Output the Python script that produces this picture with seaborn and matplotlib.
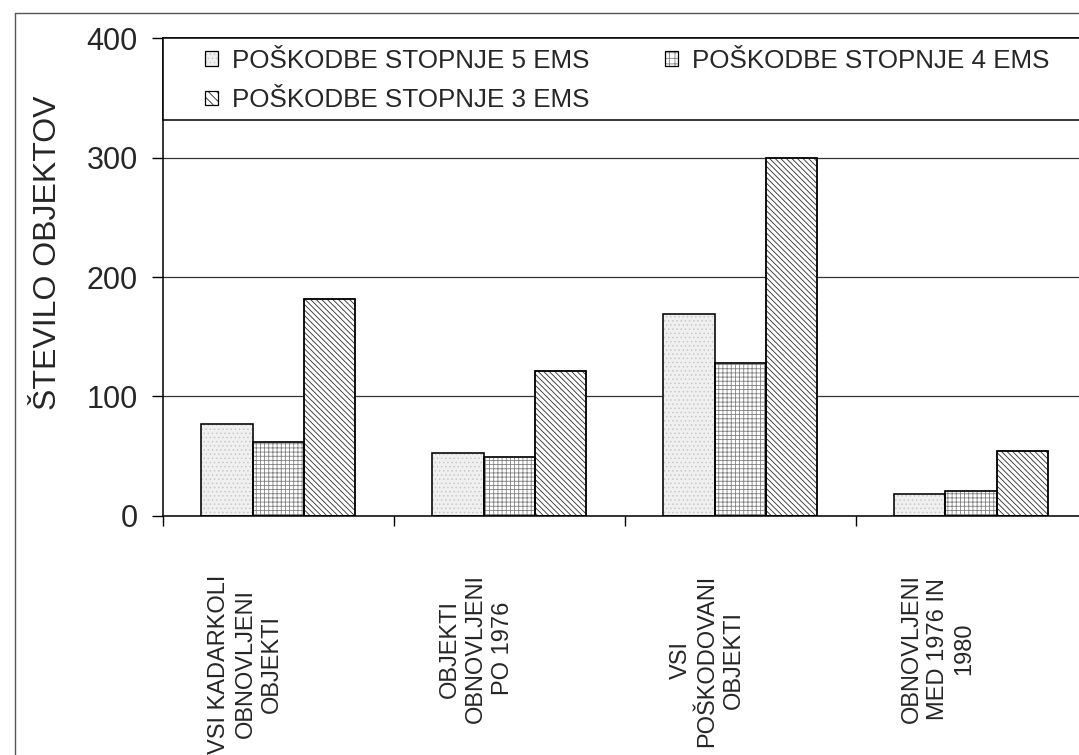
import pandas as pd
import seaborn as sns
import matplotlib.pyplot as plt
from matplotlib.patches import Patch, Rectangle
from matplotlib.lines import Line2D
from matplotlib.transforms import ScaledTranslation

categories = [
    "VSI KADARKOLI\nOBNOVLJENI\nOBJEKTI",
    "OBJEKTI\nOBNOVLJENI\nPO 1976",
    "VSI\nPOŠKODOVANI\nOBJEKTI",
    "OBNOVLJENI\nMED 1976 IN\n1980",
]
series_names = [
    "POŠKODBE STOPNJE 5 EMS",
    "POŠKODBE STOPNJE 4 EMS",
    "POŠKODBE STOPNJE 3 EMS",
]
stopnja_5 = [77, 53, 169, 18]
stopnja_4 = [62, 49, 128, 21]
stopnja_3 = [182, 121, 300, 54]

df = pd.DataFrame({
    "kategorija": categories * 3,
    "poskodbe": [series_names[0]] * 4 + [series_names[1]] * 4 + [series_names[2]] * 4,
    "stevilo": stopnja_5 + stopnja_4 + stopnja_3,
})

sns.set_style("white")
plt.rcParams["font.family"] = ["Liberation Sans", "DejaVu Sans"]
plt.rcParams["hatch.linewidth"] = 0.6

fig = plt.figure(figsize=(10.79, 7.55), dpi=100)
ax = fig.add_axes([0.151, 0.3166, 0.856, 0.633])

fills = ["#f0f0f0", "white", "white"]
hatches = ["....", "++++", "\\\\\\\\\\\\"]
hatch_cols = ["#c8c8c8", "#808080", "#2a2a2a"]

sns.barplot(data=df, x="kategorija", y="stevilo", hue="poskodbe",
            hue_order=series_names, palette=fills, saturation=1,
            width=0.667, edgecolor="black", linewidth=1.1,
            legend=False, ax=ax)

# hatch takes the edge colour, so hatch in grey and outline each bar in black
for container, h, hc in zip(ax.containers, hatches, hatch_cols):
    for bar in container:
        bar.set_hatch(h)
        bar.set_edgecolor(hc)
        ax.add_patch(Rectangle((bar.get_x(), bar.get_y()), bar.get_width(),
                               bar.get_height(), fill=False, edgecolor="black",
                               linewidth=1.1, zorder=bar.get_zorder() + 0.1))

ax.set_ylim(0, 400)
ax.set_xlim(-0.5, 3.5)
ax.set_yticks([0, 100, 200, 300, 400])
ax.yaxis.grid(True, color="#333333", linewidth=0.9)
ax.set_axisbelow(True)

for side in ["left", "bottom", "top"]:
    ax.spines[side].set_color("black")
    ax.spines[side].set_linewidth(1.1)
ax.spines["right"].set_visible(False)

ax.tick_params(axis="y", direction="out", length=8, width=1, color="black",
               labelsize=22, pad=10, left=True)
ax.set_ylabel("ŠTEVILO OBJEKTOV", fontsize=23)
ax.yaxis.set_label_coords(-0.108, 0.55)
ax.set_xlabel("")

ax.set_xticks([-0.5, 0.5, 1.5, 2.5], minor=True)
ax.tick_params(axis="x", which="minor", direction="out", length=7, width=1,
               color="black", bottom=True)
ax.tick_params(axis="x", which="major", length=0, pad=42, labelsize=17)
offset = ScaledTranslation(-33 / 100, 0, fig.dpi_scale_trans)
for lbl in ax.get_xticklabels():
    lbl.set_rotation(90)
    lbl.set_ha("center")
    lbl.set_va("top")
    lbl.set_multialignment("center")
    lbl.set_linespacing(1.25)
    lbl.set_transform(lbl.get_transform() + offset)

# legend box across the top of the plot
ax.add_patch(Rectangle((0, 0.828), 1.2, 0.172, transform=ax.transAxes,
                       facecolor="white", edgecolor="black", linewidth=1.1,
                       zorder=4, clip_on=False))

handles = []
for f, h, hc in zip(fills, ["....", "+++", "\\\\\\\\"], hatch_cols):
    inner = Patch(facecolor=f, edgecolor=hc, hatch=h, linewidth=0)
    outline = Patch(facecolor="none", edgecolor="black", linewidth=0.9)
    handles.append((inner, outline))
order = [0, 2, 1]
leg = ax.legend([handles[i] for i in order], [series_names[i] for i in order],
                ncol=2, loc="upper left", bbox_to_anchor=(0.0455, 0.978),
                borderaxespad=0, borderpad=0, fontsize=18.7, frameon=False,
                handlelength=0.5, handleheight=0.5, handletextpad=0.55,
                labelspacing=0.6, columnspacing=2.9)
leg.set_zorder(5)

# outer frame of the scanned figure
fig.add_artist(Line2D([15 / 1079, 1], [1 - 13 / 755, 1 - 13 / 755],
                      transform=fig.transFigure, color="#555555", lw=1))
fig.add_artist(Line2D([15 / 1079, 15 / 1079], [0, 1 - 13 / 755],
                      transform=fig.transFigure, color="#555555", lw=1))

fig.savefig("out.png", dpi=100)
